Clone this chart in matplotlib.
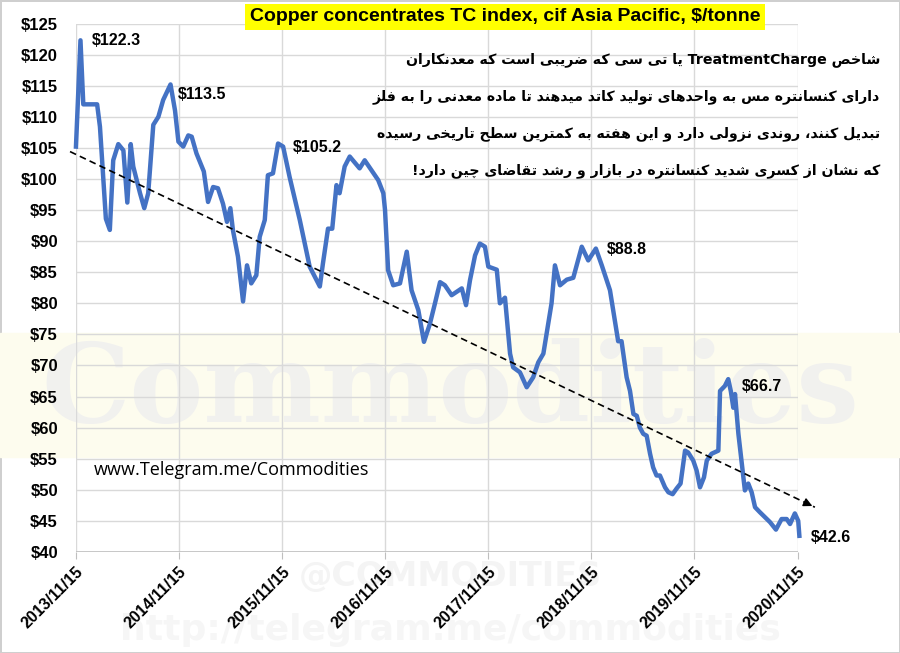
import re
import matplotlib
matplotlib.use("Agg")
import matplotlib.pyplot as plt
import numpy as np
import pandas as pd

# weekly-ish TC index readings ($/tonne)
dates = ["2013-11-15", "2013-12-01", "2013-12-11", "2014-01-29", "2014-02-08", "2014-03-01",
         "2014-03-15", "2014-03-27", "2014-04-14", "2014-05-02", "2014-05-16", "2014-05-28",
         "2014-06-06", "2014-06-30", "2014-07-15", "2014-07-29", "2014-08-16", "2014-09-03",
         "2014-09-20", "2014-10-16", "2014-11-01", "2014-11-13", "2014-11-30", "2014-12-18",
         "2014-12-30", "2015-01-16", "2015-02-11", "2015-02-26", "2015-03-16", "2015-04-02",
         "2015-04-20", "2015-05-04", "2015-05-16", "2015-05-25", "2015-06-12", "2015-06-30",
         "2015-07-14", "2015-07-29", "2015-08-16", "2015-08-28", "2015-09-15", "2015-09-26",
         "2015-10-14", "2015-11-01", "2015-11-19", "2015-12-12", "2016-01-17", "2016-02-21",
         "2016-03-28", "2016-04-08", "2016-04-26", "2016-05-11", "2016-05-26", "2016-06-06",
         "2016-06-24", "2016-07-12", "2016-08-16", "2016-09-03", "2016-09-27", "2016-10-21",
         "2016-11-08", "2016-11-14", "2016-11-25", "2016-12-13", "2017-01-06", "2017-01-30",
         "2017-02-16", "2017-03-12", "2017-04-01", "2017-04-22", "2017-05-10", "2017-05-28",
         "2017-06-14", "2017-07-08", "2017-08-13", "2017-08-28", "2017-09-11", "2017-09-29",
         "2017-10-16", "2017-11-03", "2017-11-15", "2017-12-15", "2017-12-26", "2018-01-13",
         "2018-01-31", "2018-02-11", "2018-03-07", "2018-03-31", "2018-04-23", "2018-05-11",
         "2018-05-29", "2018-06-15", "2018-06-27", "2018-07-09", "2018-07-27", "2018-08-20",
         "2018-09-12", "2018-10-12", "2018-11-04", "2018-12-01", "2018-12-22", "2019-01-20",
         "2019-02-07", "2019-02-18", "2019-03-02", "2019-03-20", "2019-04-01", "2019-04-13",
         "2019-04-25", "2019-05-06", "2019-05-18", "2019-05-30", "2019-06-11", "2019-06-22",
         "2019-07-04", "2019-07-16", "2019-08-03", "2019-08-15", "2019-08-30", "2019-09-13",
         "2019-09-27", "2019-10-13", "2019-10-24", "2019-11-11", "2019-11-23", "2019-12-05",
         "2019-12-19", "2019-12-29", "2020-01-15", "2020-02-08", "2020-02-14", "2020-03-02",
         "2020-03-14", "2020-03-23", "2020-04-01", "2020-04-07", "2020-04-19", "2020-05-01",
         "2020-05-12", "2020-05-24", "2020-06-05", "2020-06-17", "2020-07-04", "2020-07-22",
         "2020-08-09", "2020-08-30", "2020-09-19", "2020-10-07", "2020-10-19", "2020-11-05",
         "2020-11-17", "2020-11-21"]
tc = [105.2, 122.3, 112.0, 112.0, 108.4, 93.6,
      91.8, 103.0, 105.6, 104.6, 96.2, 105.6,
      102.0, 97.7, 95.3, 97.7, 108.7, 110.0,
      112.7, 115.2, 111.0, 106.0, 105.2, 107.0,
      106.8, 104.1, 101.2, 96.3, 98.7, 98.5,
      96.0, 93.1, 95.3, 91.8, 87.5, 80.3,
      86.1, 83.2, 84.5, 90.7, 93.4, 100.6,
      100.9, 105.7, 105.2, 100.3, 93.4, 85.9,
      82.7, 86.4, 92.0, 92.0, 99.0, 97.7,
      102.0, 103.6, 101.7, 103.0, 101.4, 99.8,
      97.7, 95.0, 85.3, 82.9, 83.2, 88.3,
      82.1, 78.9, 73.8, 76.7, 80.0, 83.4,
      82.9, 81.3, 82.4, 79.7, 83.7, 87.7,
      89.6, 89.1, 85.9, 85.4, 80.0, 80.9,
      71.9, 69.7, 68.9, 66.5, 68.1, 70.5,
      71.9, 76.7, 80.0, 86.1, 82.9, 83.8,
      84.1, 89.1, 86.9, 88.8, 86.1, 82.1,
      77.0, 73.9, 73.9, 68.1, 65.9, 62.2,
      61.9, 60.0, 59.0, 58.7, 55.8, 53.6,
      52.3, 52.3, 50.4, 49.6, 49.3, 50.2,
      51.0, 56.3, 56.0, 54.7, 53.1, 50.4,
      52.0, 54.7, 55.8, 56.3, 65.9, 66.7,
      67.8, 65.9, 63.2, 65.4, 59.0, 54.2,
      49.9, 51.0, 49.6, 47.2, 46.4, 45.6,
      44.8, 43.6, 45.3, 45.3, 44.5, 46.2,
      45.0, 42.6]

# labelled points: date, value shown, offset of label (points)
peak_dates = ["2013-12-01", "2014-10-16", "2015-11-01", "2018-12-01", "2020-03-14", "2020-11-21"]
peak_labels = ["$122.3", "$113.5", "$105.2", "$88.8", "$66.7", "$42.6"]
peak_offsets = [(8, 5), (5, -2), (11, 2.5), (8, 5), (10, 0), (8, 4.5)]

# dashed trend arrow
trend_dates = ["2013-10-25", "2021-01-15"]
trend_vals = [104.4, 47.2]

tick_dates = ["2013-11-15", "2014-11-15", "2015-11-15", "2016-11-15",
              "2017-11-15", "2018-11-15", "2019-11-15", "2020-11-15"]
tick_labels = [d.replace("-", "/") for d in tick_dates]

title = "Copper concentrates TC index, cif Asia Pacific, $/tonne"
note_lines = [
    "شاخص TreatmentCharge یا تی سی که ضریبی است که معدنکاران",
    "دارای کنسانتره مس به واحدهای تولید کاتد میدهند تا ماده معدنی را به فلز",
    "تبدیل کنند، روندی نزولی دارد و این هفته به کمترین سطح تاریخی رسیده",
    "که نشان از کسری شدید کنسانتره در بازار و رشد تقاضای چین دارد!",
]

# --- simple arabic/persian shaping (matplotlib has no text shaping) ---
FORMS = {
    'ا': '\uFE8D\uFE8E', 'د': '\uFEA9\uFEAA', 'ذ': '\uFEAB\uFEAC', 'ر': '\uFEAD\uFEAE',
    'ز': '\uFEAF\uFEB0', 'ژ': '\uFB8A\uFB8B', 'و': '\uFEED\uFEEE',
    'ب': '\uFE8F\uFE90\uFE91\uFE92', 'ت': '\uFE95\uFE96\uFE97\uFE98', 'ث': '\uFE99\uFE9A\uFE9B\uFE9C',
    'ج': '\uFE9D\uFE9E\uFE9F\uFEA0', 'ح': '\uFEA1\uFEA2\uFEA3\uFEA4', 'خ': '\uFEA5\uFEA6\uFEA7\uFEA8',
    'س': '\uFEB1\uFEB2\uFEB3\uFEB4', 'ش': '\uFEB5\uFEB6\uFEB7\uFEB8', 'ص': '\uFEB9\uFEBA\uFEBB\uFEBC',
    'ض': '\uFEBD\uFEBE\uFEBF\uFEC0', 'ط': '\uFEC1\uFEC2\uFEC3\uFEC4', 'ظ': '\uFEC5\uFEC6\uFEC7\uFEC8',
    'ع': '\uFEC9\uFECA\uFECB\uFECC', 'غ': '\uFECD\uFECE\uFECF\uFED0', 'ف': '\uFED1\uFED2\uFED3\uFED4',
    'ق': '\uFED5\uFED6\uFED7\uFED8', 'ل': '\uFEDD\uFEDE\uFEDF\uFEE0', 'م': '\uFEE1\uFEE2\uFEE3\uFEE4',
    'ن': '\uFEE5\uFEE6\uFEE7\uFEE8', 'ه': '\uFEE9\uFEEA\uFEEB\uFEEC', 'ی': '\uFBFC\uFBFD\uFBFE\uFBFF',
    'پ': '\uFB56\uFB57\uFB58\uFB59', 'چ': '\uFB7A\uFB7B\uFB7C\uFB7D', 'ک': '\uFB8E\uFB8F\uFB90\uFB91',
    'گ': '\uFB92\uFB93\uFB94\uFB95',
}


def shape(s):
    out = []
    for i, ch in enumerate(s):
        f = FORMS.get(ch)
        if f is None:
            out.append(ch)
            continue
        prev = s[i - 1] if i > 0 else ''
        nxt = s[i + 1] if i + 1 < len(s) else ''
        jp = prev in FORMS and len(FORMS[prev]) == 4
        jn = len(f) == 4 and nxt in FORMS
        if jp and jn:
            out.append(f[3])
        elif jp:
            out.append(f[1])
        elif jn:
            out.append(f[2])
        else:
            out.append(f[0])
    s = ''.join(out)
    parts = re.split(r'([A-Za-z0-9]+)', s)
    return ''.join(p if re.fullmatch(r'[A-Za-z0-9]+', p) else p[::-1] for p in parts[::-1])


narrow = ['Liberation Sans Narrow', 'Liberation Sans', 'DejaVu Sans']

x = pd.to_datetime(dates)
fig = plt.figure(figsize=(9, 6.53), dpi=100)
fig.patch.set_facecolor('white')
fig.patch.set_edgecolor('#cfcfcf')
fig.patch.set_linewidth(2)

# faint watermark behind the chart
fig.patches.append(plt.Rectangle((0, 0.30), 1, 0.19, transform=fig.transFigure,
                                 color='#fdfcee', zorder=-10))
fig.text(0.5, 0.40, "Commodities", fontsize=80, family='DejaVu Serif', weight='bold',
         color='#f1f1ee', ha='center', va='center', zorder=-9)
fig.text(0.5, 0.117, "@COMMODITIES", fontsize=24, family='DejaVu Sans', weight='bold',
         color='#f4f4f4', ha='center', va='center', zorder=-9)
fig.text(0.5, 0.035, "http://telegram.me/commodities", fontsize=26, family='DejaVu Sans',
         weight='bold', color='#f6f6f6', ha='center', va='center', zorder=-9)

ax = fig.add_axes([0.0844, 0.1547, 0.8019, 0.8093])
ax.set_facecolor('none')
ax.plot(x, tc, color='#4472c4', lw=3.2, solid_joinstyle='round', clip_on=False, zorder=3)

td = pd.to_datetime(trend_dates)
ax.plot(td, trend_vals, color='black', lw=1.2, ls=(0, (4, 2.5)), clip_on=False, zorder=4)
ax.annotate('', xy=(td[1], trend_vals[1]), xytext=(-9, 4.3), textcoords='offset points',
            arrowprops=dict(arrowstyle='-|>', color='black', lw=1, mutation_scale=13),
            annotation_clip=False, zorder=4)

for d, lab, off in zip(peak_dates, peak_labels, peak_offsets):
    ax.annotate(lab, xy=(pd.Timestamp(d), tc[dates.index(d)]), xytext=off,
                textcoords='offset points', fontsize=11.5, weight='bold', family=narrow,
                ha='left', va='top', annotation_clip=False)

ax.set_xlim(pd.Timestamp(tick_dates[0]), pd.Timestamp(tick_dates[-1]))
ax.set_ylim(40, 125)
ax.set_yticks(np.arange(40, 126, 5))
ax.set_yticklabels(["$%d" % v for v in np.arange(40, 126, 5)])
ax.set_xticks(pd.to_datetime(tick_dates))
ax.set_xticklabels(tick_labels, rotation=45, ha='right', rotation_mode='anchor')
ax.grid(True, color='#d9d9d9', lw=1)
ax.set_axisbelow(True)
for s in ax.spines.values():
    s.set_visible(False)
ax.axhline(40, color='#bfbfbf', lw=1.2, zorder=1)
ax.tick_params(axis='y', length=0, pad=13)
ax.tick_params(axis='x', length=5, color='#bfbfbf', pad=4)
for t in ax.get_yticklabels() + ax.get_xticklabels():
    t.set_fontfamily(narrow)
    t.set_fontweight('bold')
    t.set_fontsize(11.5)
for t in ax.get_yticklabels():
    t.set_fontsize(12)

fig.text(0.561, 0.974, title, fontsize=14, weight='bold', family=narrow, ha='center', va='center',
         bbox=dict(boxstyle='square,pad=0.25', fc='#ffff00', ec='none'))

for i, line in enumerate(note_lines):
    fig.text(0.978, 0.908 - i * 0.0565, shape(line), fontsize=10.2, weight='bold',
             family='DejaVu Sans', ha='right', va='center')

ax.text(0.025, 0.155, "www.Telegram.me/Commodities", transform=ax.transAxes, fontsize=13,
        family=['Open Sans', 'DejaVu Sans'], ha='left', va='center')

fig.savefig('out.png', dpi=100)
